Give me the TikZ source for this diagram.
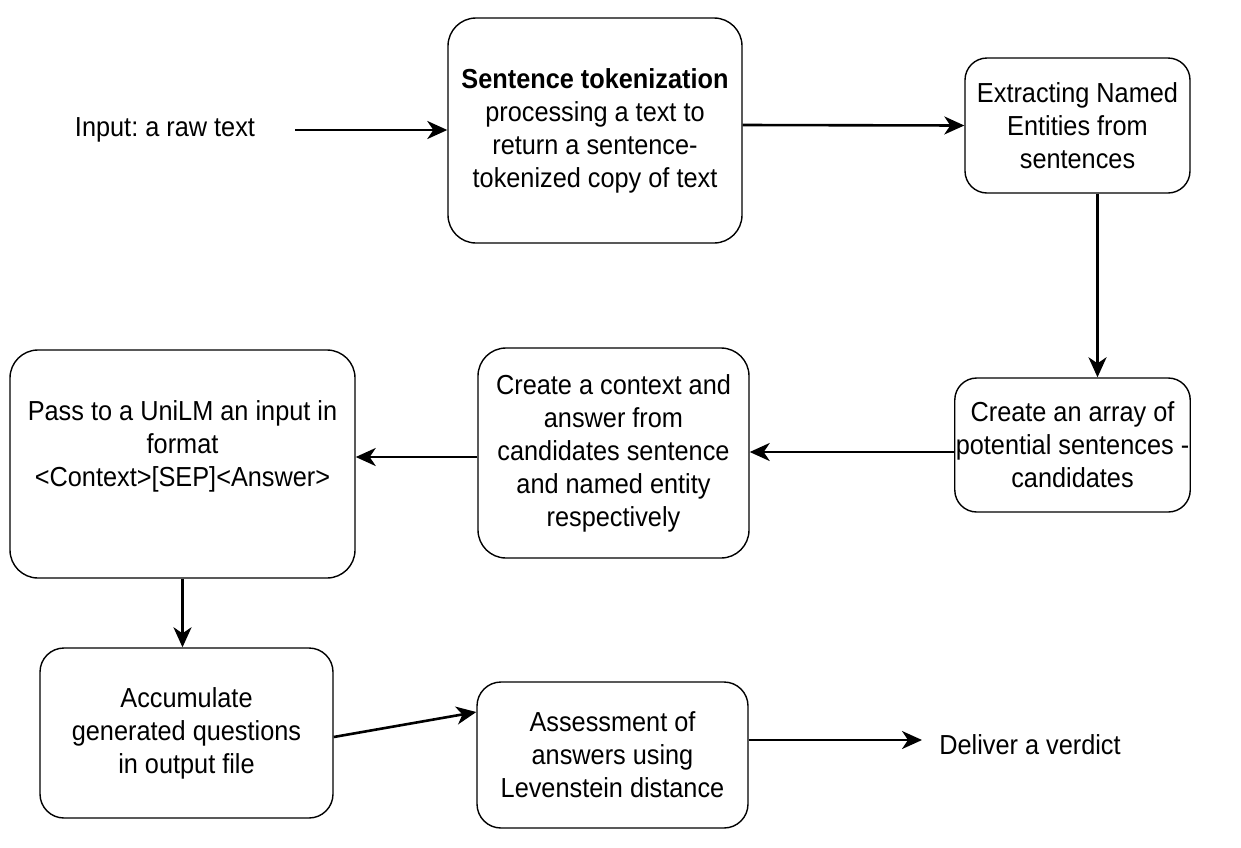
\documentclass[tikz,border=0pt]{standalone}
\usepackage{fontspec}
\setmainfont{Liberation Sans}[FakeStretch=0.92]
\usetikzlibrary{arrows.meta}
\frenchspacing
\begin{document}
\begin{tikzpicture}[x=1pt,y=-1pt,
  box/.style={draw=black,line width=1.4pt,rounded corners=28pt,align=center,inner sep=1pt,
    font=\fontsize{27.5}{33}\selectfont},
  txt/.style={align=center,font=\fontsize{27.5}{33}\selectfont},
  arr/.style={line width=2.6pt,-{Stealth[length=20pt,width=18pt,inset=6pt]}}]
\useasboundingbox (0,0) rectangle (1241,847);
\node[txt] (inp) at (165,130) {Input: a raw text};
\coordinate (inpout) at (295,130);
\node[box,minimum width=294pt,minimum height=225pt] (sent) at (595,130.5)
  {\textbf{Sentence tokenization}\\processing a text to\\return a sentence-\\tokenized copy of text};
\node[box,rounded corners=22pt,minimum width=225pt,minimum height=135pt] (ext) at (1077.5,125.5)
  {Extracting Named\\Entities from\\sentences};
\node[box,rounded corners=22pt,minimum width=229pt,minimum height=134pt] (arr) at (1072.5,445)
  {Create an array of\\potential sentences -\\candidates};
\node[box,minimum width=271pt,minimum height=210pt] (ctx) at (613.5,453)
  {Create a context and\\answer from\\candidates sentence\\and named entity\\respectively};
\node[box,minimum width=345pt,minimum height=228pt] (pass) at (182.5,464) {};
\node[txt] (passt) at (182.5,446) {Pass to a UniLM an input in\\format\\<Context>[SEP]<Answer>};
\node[box,rounded corners=24pt,minimum width=293pt,minimum height=170pt] (acc) at (186.5,733)
  {Accumulate\\generated questions\\in output file};
\node[box,rounded corners=24pt,minimum width=271pt,minimum height=146pt] (ass) at (612.5,755)
  {Assessment of\\answers using\\Levenstein distance};
\node[txt] (ver) at (1030,745) {Deliver a verdict};
\coordinate (verin) at (922,740);
\draw[arr] (inpout) -- (sent.west |- inpout);
\draw[arr] (sent.east |- 0,125) -- (ext.west);
\draw[arr] ([xshift=20pt]ext.south) -- ([xshift=25pt]arr.north);
\draw[arr] (arr.west |- 0,452) -- (ctx.east |- 0,452);
\draw[arr] (ctx.west |- 0,457) -- (pass.east |- 0,457);
\draw[arr] (pass.south) -- (pass.south |- acc.north);
\draw[arr] (acc.east |- 0,737) -- (ass.west |- 0,712);
\draw[arr] (ass.east |- 0,740) -- (verin);
\end{tikzpicture}
\end{document}
